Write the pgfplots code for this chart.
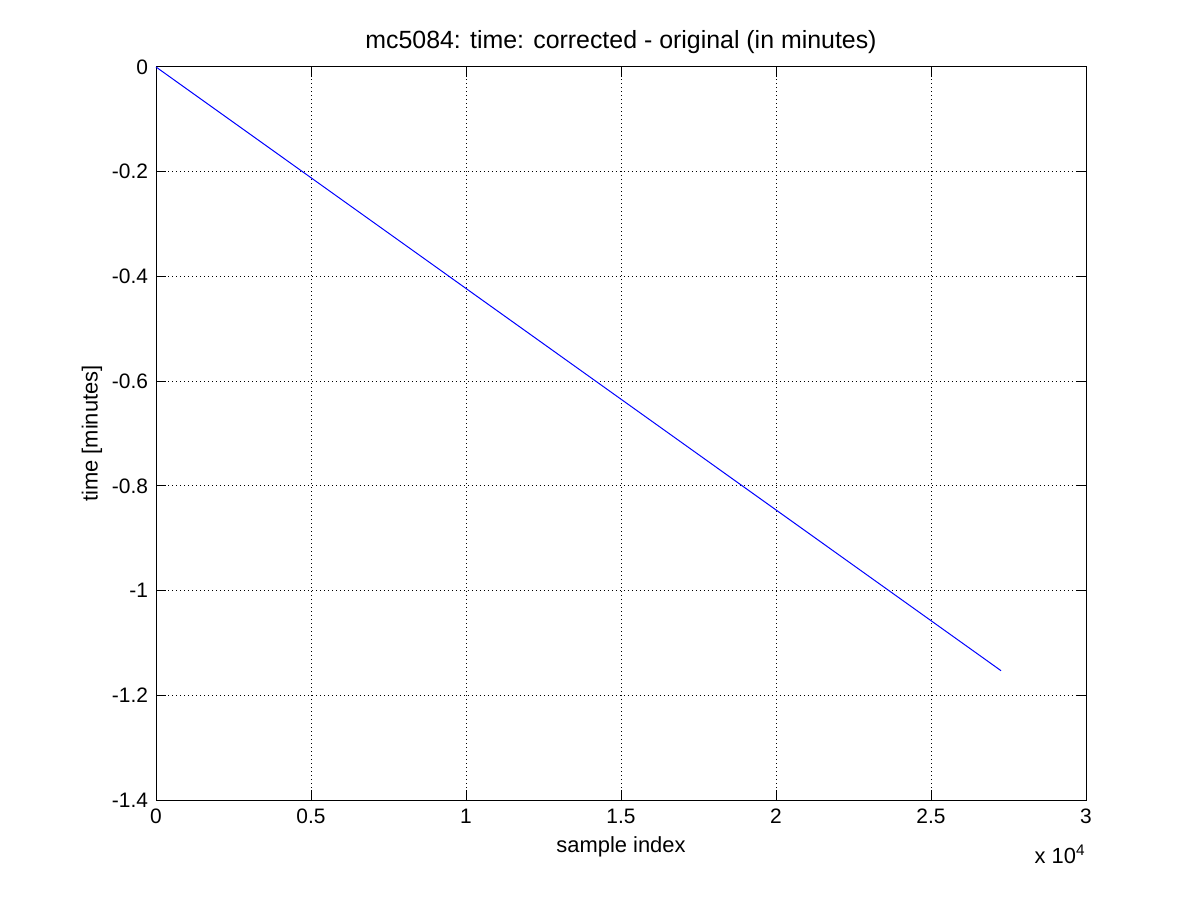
\documentclass[border=0pt]{standalone}
\usepackage{fontspec}
\setmainfont{Liberation Sans}
\usepackage{pgfplots}
\pgfplotsset{compat=1.18}

\begin{document}
\begin{tikzpicture}
  % page: 1200x900 px at 0.5bp per px
  \path[fill=white] (0,0) rectangle (600bp,450bp);
  \begin{axis}[
      at={(78bp,50bp)}, anchor=south west,
      scale only axis,
      width=465bp, height=366.5bp,
      xmin=0, xmax=30000, ymin=-1.4, ymax=0,
      clip=false,
      xtick={0,5000,10000,15000,20000,25000,30000},
      xticklabels={0,0.5,1,1.5,2,2.5,3},
      ytick={-1.4,-1.2,-1,-0.8,-0.6,-0.4,-0.2,0},
      yticklabels={-1.4,-1.2,-1,-0.8,-0.6,-0.4,-0.2,0},
      scaled x ticks=false,
      tick align=inside,
      major tick length=5bp,
      tick style={black, line width=0.5bp},
      axis line style={line width=0.5bp},
      grid=major,
      grid style={black, line width=0.5bp, dash pattern=on 0.5bp off 1.5bp},
      ticklabel style={font=\fontsize{10.5}{12}\selectfont},
      xticklabel style={yshift=-1bp},
      yticklabel style={xshift=-0.5bp},
      every axis title/.style={at={(axis description cs:0.5,1)}, anchor=base,
        yshift=9bp, font=\fontsize{12.5}{14}\selectfont},
      title={mc5084: time: corrected - original (in minutes)},
      xlabel={sample index},
      xlabel style={at={(axis description cs:0.5,0)}, anchor=center, yshift=-23.5bp,
        font=\fontsize{11}{13}\selectfont},
      ylabel={time [minutes]},
      ylabel style={at={(axis description cs:-0.0688,0.5)}, anchor=center,
        font=\fontsize{11}{13}\selectfont},
    ]
    \addplot[blue, line width=0.5bp] coordinates {(0,0) (27258,-1.153)};
    \node[anchor=base east, inner sep=0pt, font=\fontsize{11}{13}\selectfont]
      at (rel axis cs:1,0) [yshift=-31.5bp] {x 10\textsuperscript{4}};
  \end{axis}
\end{tikzpicture}
\end{document}
